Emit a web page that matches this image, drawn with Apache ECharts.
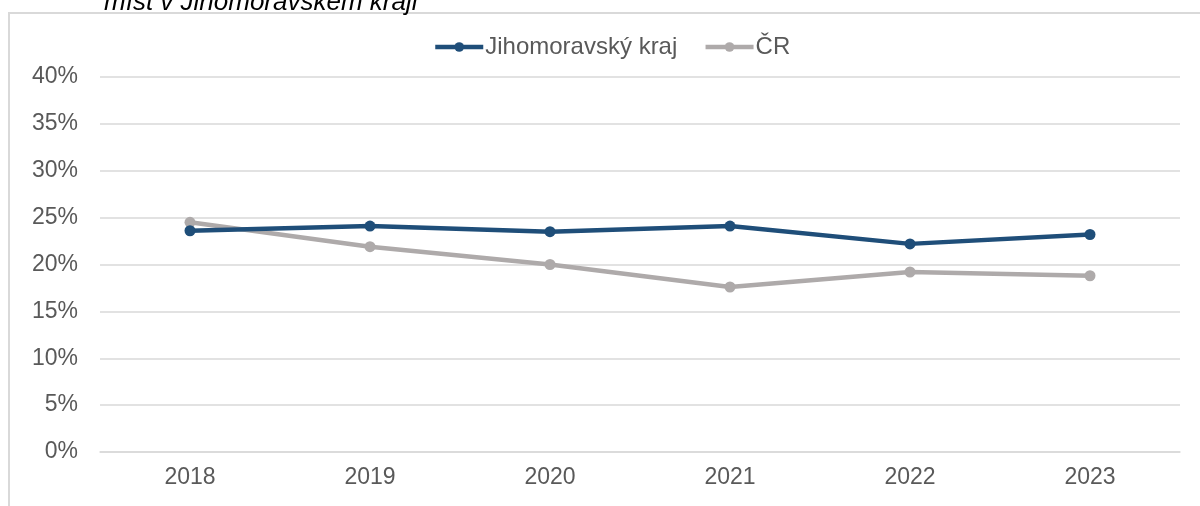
<!DOCTYPE html>
<html>
<head>
<meta charset="utf-8">
<script src="https://cdn.jsdelivr.net/npm/echarts@6/dist/echarts.min.js"></script>
<style>
  html, body { margin: 0; padding: 0; background: #fff; }
  #chart { width: 1200px; height: 506px; }
</style>
</head>
<body>
<div id="chart"></div>
<script>
// data
const years = ['2018', '2019', '2020', '2021', '2022', '2023']
const jmkValues = [23.6, 24.1, 23.5, 24.1, 22.2, 23.2]
const crValues = [24.5, 21.9, 20.0, 17.6, 19.2, 18.8]
const seriesNames = ['Jihomoravský kraj', 'ČR']
const titleText = 'míst v Jihomoravském kraji'

const chart = echarts.init(document.getElementById('chart'))
const font = '"Liberation Sans", Arial, sans-serif'

chart.setOption({
  animation: false,
  color: ['#1F4E79', '#AEAAAA'],
  graphic: [
    {
      type: 'rect',
      shape: { x: 9, y: 13, width: 1300, height: 600 },
      style: { fill: 'none', stroke: '#d9d9d9', lineWidth: 2 }
    },
    {
      // title is cut off by the top edge in the reference
      type: 'text',
      x: 104,
      y: -10,
      style: {
        text: titleText,
        font: 'italic 26px ' + font,
        fill: '#000'
      }
    }
  ],
  legend: {
    top: 30,
    left: 428,
    itemWidth: 48,
    itemHeight: 12,
    itemGap: 26,
    lineStyle: { width: 4.5 },
    textStyle: { fontFamily: font, fontSize: 24, color: '#595959', padding: [0, 0, 0, -3] },
    data: seriesNames
  },
  grid: {
    left: 100,
    right: 20,
    top: 77,
    bottom: 54
  },
  xAxis: {
    type: 'category',
    data: years,
    boundaryGap: true,
    axisLine: { lineStyle: { color: '#d9d9d9', width: 1.5 } },
    axisTick: { show: false },
    axisLabel: { fontFamily: font, fontSize: 23, color: '#595959', margin: 14 }
  },
  yAxis: {
    type: 'value',
    min: 0,
    max: 40,
    interval: 5,
    axisLine: { show: false },
    axisTick: { show: false },
    axisLabel: {
      fontFamily: font, fontSize: 23, color: '#595959', margin: 22,
      formatter: '{value}%'
    },
    splitLine: { lineStyle: { color: '#d9d9d9', width: 1.5 } }
  },
  series: [
    {
      name: seriesNames[0],
      type: 'line',
      data: jmkValues,
      symbol: 'circle',
      symbolSize: 11,
      lineStyle: { width: 4.5 },
      z: 3
    },
    {
      name: seriesNames[1],
      type: 'line',
      data: crValues,
      symbol: 'circle',
      symbolSize: 11,
      lineStyle: { width: 4.5 },
      z: 2
    }
  ]
})
</script>
</body>
</html>
